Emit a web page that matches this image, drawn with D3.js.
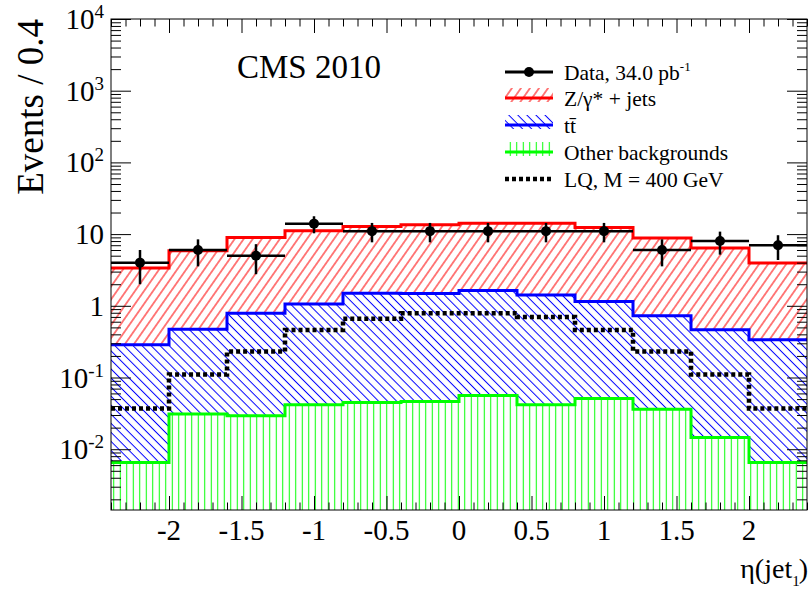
<!DOCTYPE html>
<html>
<head>
<meta charset="utf-8">
<script src="https://cdn.jsdelivr.net/npm/d3@7"></script>
<style>
  body { margin: 0; background: #fff; }
  svg text { font-family: "Liberation Serif", "DejaVu Serif", serif; fill: #000; }
</style>
</head>
<body>
<div id="graph"></div>
<script>
//constantes
const w = 808;
const h = 589;
const padLeft = 111;
const padRight = 807;
const padTop = 19;
const padBottom = 510;
const yMin = 0.00142;
const yMax = 1e4;

// bins en eta
const binLow = [-2.4, -2.0, -1.6, -1.2, -0.8, -0.4, 0.0, 0.4, 0.8, 1.2, 1.6, 2.0];
const binWidth = 0.4;

// empilement : haut du Z/gamma*+jets (total), haut du ttbar, autres
const totalBkg = [3.36, 5.85, 8.97, 11.1, 12.8, 13.5, 14.2, 14.2, 12.4, 8.8, 6.4, 3.94];
const ttbarTop = [0.286, 0.473, 0.79, 1.06, 1.50, 1.48, 1.63, 1.42, 1.15, 0.726, 0.463, 0.336];
const otherBkg = [0.00653, 0.0309, 0.0292, 0.0416, 0.0449, 0.0463, 0.0561, 0.0416, 0.051, 0.0362, 0.0146, 0.00653];
const lqSignal = [0.037, 0.11, 0.23, 0.46, 0.66, 0.79, 0.79, 0.70, 0.46, 0.23, 0.11, 0.037];

// données
const dataCounts = [4, 6, 5, 14, 11, 11, 11, 11, 11, 6, 8, 7];
const dataErr = [2.0, 2.45, 2.24, 3.74, 3.32, 3.32, 3.32, 3.32, 3.32, 2.45, 2.83, 2.65];

// étiquettes des axes
const xTickValues = [-2, -1.5, -1, -0.5, 0, 0.5, 1, 1.5, 2];
const xTickLabels = ["-2", "-1.5", "-1", "-0.5", "0", "0.5", "1", "1.5", "2"];
const yTickValues = [1e-2, 1e-1, 1, 10, 1e2, 1e3, 1e4];
const yTickBase = ["10", "10", "1", "10", "10", "10", "10"];
const yTickExp = ["-2", "-1", "", "", "2", "3", "4"];

// légende
const legendLabels = ["Data, 34.0 pb", "Z/\u03b3* + jets", "t", "Other backgrounds", "LQ, M = 400 GeV"];

//création du svg
const svg = d3.select("#graph")
    .append("svg")
    .attr("width", w)
    .attr("height", h);

//scalling
let xScale = d3.scaleLinear().domain([-2.4, 2.4]).range([padLeft, padRight]);
let yScale = d3.scaleLog().domain([yMin, yMax]).range([padBottom, padTop]);

// motifs hachurés
const defs = svg.append("defs");
function hatch(id, color, angle, gap) {
    let p = defs.append("pattern")
        .attr("id", id)
        .attr("patternUnits", "userSpaceOnUse")
        .attr("width", gap)
        .attr("height", 20)
        .attr("patternTransform", "rotate(" + angle + ")");
    p.append("line")
        .attr("x1", gap / 2).attr("x2", gap / 2)
        .attr("y1", -1).attr("y2", 21)
        .attr("stroke", color)
        .attr("stroke-width", 1);
}
hatch("hRed", "#ff0000", 35, 7.4);
hatch("hBlue", "#0000ff", -45, 6.4);
hatch("hGreen", "#00ff00", 0, 6.5);

// points d'un histogramme en escalier
function steps(values) {
    let pts = [];
    values.forEach(function(v, i) {
        pts.push([binLow[i], v]);
        pts.push([binLow[i] + binWidth, v]);
    });
    return pts;
}

let line = d3.line()
    .x(d => xScale(d[0]))
    .y(d => yScale(d[1]));

function band(lower, upper) {
    let lo = steps(lower);
    let up = steps(upper);
    return d3.area()
        .x(d => xScale(d[0]))
        .y0((d, i) => yScale(lo[i][1]))
        .y1(d => yScale(d[1]))(up);
}

const plot = svg.append("g");

// remplissages
plot.append("path")
    .attr("d", band(ttbarTop, totalBkg))
    .attr("fill", "url(#hRed)");
plot.append("path")
    .attr("d", band(otherBkg, ttbarTop))
    .attr("fill", "url(#hBlue)");
plot.append("path")
    .attr("d", band(otherBkg.map(() => yMin), otherBkg))
    .attr("fill", "url(#hGreen)");

// contours
plot.append("path").attr("d", line(steps(totalBkg)))
    .attr("fill", "none").attr("stroke", "#ff0000").attr("stroke-width", 3);
plot.append("path").attr("d", line(steps(ttbarTop)))
    .attr("fill", "none").attr("stroke", "#0000ff").attr("stroke-width", 3);
plot.append("path").attr("d", line(steps(otherBkg)))
    .attr("fill", "none").attr("stroke", "#00ff00").attr("stroke-width", 3);

// signal LQ
plot.append("path").attr("d", line(steps(lqSignal)))
    .attr("fill", "none").attr("stroke", "#000").attr("stroke-width", 4.5)
    .attr("stroke-dasharray", "4,3");

// données
let pts = plot.selectAll(".pt").data(dataCounts).enter().append("g").attr("class", "pt");
pts.append("line")
    .attr("x1", (d, i) => xScale(binLow[i]))
    .attr("x2", (d, i) => xScale(binLow[i] + binWidth))
    .attr("y1", d => yScale(d))
    .attr("y2", d => yScale(d))
    .attr("stroke", "#000").attr("stroke-width", 2.5);
pts.append("line")
    .attr("x1", (d, i) => xScale(binLow[i] + binWidth / 2))
    .attr("x2", (d, i) => xScale(binLow[i] + binWidth / 2))
    .attr("y1", (d, i) => yScale(d - dataErr[i]))
    .attr("y2", (d, i) => yScale(d + dataErr[i]))
    .attr("stroke", "#000").attr("stroke-width", 2.5);
pts.append("circle")
    .attr("cx", (d, i) => xScale(binLow[i] + binWidth / 2))
    .attr("cy", d => yScale(d))
    .attr("r", 5)
    .attr("fill", "#000");

// axes
let yTicks = yScale.ticks().filter(v => v >= yMin && v <= yMax);
let isMajorY = v => Math.abs(Math.log10(v) - Math.round(Math.log10(v))) < 1e-6;
let xTicks = xScale.ticks(50);
let isMajorX = v => Math.abs(v * 2 - Math.round(v * 2)) < 1e-6;

let axeLeft = d3.axisRight(yScale).tickValues(yTicks).tickFormat("").tickSizeOuter(0);
let axeRight = d3.axisLeft(yScale).tickValues(yTicks).tickFormat("").tickSizeOuter(0);
let axeBottom = d3.axisTop(xScale).tickValues(xTicks).tickFormat("").tickSizeOuter(0);
let axeTop = d3.axisBottom(xScale).tickValues(xTicks).tickFormat("").tickSizeOuter(0);

function drawAxis(axis, tr, vertical, isMajor, lenMaj, lenMin) {
    let g = svg.append("g").attr("transform", tr).call(axis);
    g.select(".domain").remove();
    g.selectAll(".tick line")
        .attr("stroke", "#000")
        .attr("stroke-width", 1)
        .each(function(d) {
            let len = isMajor(d) ? lenMaj : lenMin;
            let el = d3.select(this);
            let k = vertical ? "x2" : "y2";
            el.attr(k, Math.sign(+el.attr(k)) * len);
        });
}
drawAxis(axeLeft, "translate(" + padLeft + ",0)", true, isMajorY, 20, 10);
drawAxis(axeRight, "translate(" + padRight + ",0)", true, isMajorY, 20, 10);
drawAxis(axeBottom, "translate(0," + padBottom + ")", false, isMajorX, 14, 7.5);
drawAxis(axeTop, "translate(0," + padTop + ")", false, isMajorX, 14, 7.5);

// cadre
svg.append("rect")
    .attr("x", padLeft).attr("y", padTop)
    .attr("width", padRight - padLeft).attr("height", padBottom - padTop)
    .attr("fill", "none").attr("stroke", "#000").attr("stroke-width", 1);

// étiquettes y
let yLab = svg.selectAll(".ylab").data(yTickValues).enter().append("text")
    .attr("class", "ylab")
    .attr("x", 104)
    .attr("y", d => yScale(d) + 10)
    .attr("text-anchor", "end")
    .attr("font-size", "29px");
yLab.append("tspan").text((d, i) => yTickBase[i]);
yLab.append("tspan")
    .attr("font-size", "19px")
    .attr("dy", -11)
    .text((d, i) => yTickExp[i]);

// étiquettes x
svg.selectAll(".xlab").data(xTickValues).enter().append("text")
    .attr("class", "xlab")
    .attr("x", d => xScale(d))
    .attr("y", 540)
    .attr("text-anchor", "middle")
    .attr("font-size", "29px")
    .text((d, i) => xTickLabels[i]);

// titres
svg.append("text")
    .attr("transform", "translate(43," + padTop + ") rotate(-90)")
    .attr("text-anchor", "end")
    .attr("font-size", "37px")
    .text("Events / 0.4");

let xt = svg.append("text")
    .attr("x", 808)
    .attr("y", 578)
    .attr("text-anchor", "end")
    .attr("font-size", "28px");
xt.append("tspan").text("\u03b7(jet");
xt.append("tspan").attr("font-size", "15px").attr("dy", 8).text("1");
xt.append("tspan").attr("dy", -8).attr("dx", -1).text(")");

svg.append("text")
    .attr("x", 237)
    .attr("y", 78)
    .attr("font-size", "33px")
    .text("CMS 2010");

// légende
const lx0 = 505, lx1 = 553, ltx = 564;
const legBase = [80, 106, 133, 160, 187];
let leg = svg.append("g");

// Data
leg.append("line").attr("x1", lx0).attr("x2", lx1)
    .attr("y1", legBase[0] - 8).attr("y2", legBase[0] - 8)
    .attr("stroke", "#000").attr("stroke-width", 3);
leg.append("circle").attr("cx", (lx0 + lx1) / 2).attr("cy", legBase[0] - 8).attr("r", 5);

// remplissages de la légende
[["hRed", "#ff0000"], ["hBlue", "#0000ff"], ["hGreen", "#00ff00"]].forEach(function(s, k) {
    let b = legBase[k + 1];
    leg.append("rect").attr("x", lx0).attr("y", b - 18)
        .attr("width", lx1 - lx0).attr("height", 14)
        .attr("fill", "url(#" + s[0] + ")");
    leg.append("line").attr("x1", lx0).attr("x2", lx1)
        .attr("y1", b - 8).attr("y2", b - 8)
        .attr("stroke", s[1]).attr("stroke-width", 3);
});

// LQ
leg.append("line").attr("x1", lx0).attr("x2", lx1)
    .attr("y1", legBase[4] - 8).attr("y2", legBase[4] - 8)
    .attr("stroke", "#000").attr("stroke-width", 4.5)
    .attr("stroke-dasharray", "4,3");

let lt = leg.selectAll(".lt").data(legendLabels).enter().append("text")
    .attr("class", "lt")
    .attr("x", ltx)
    .attr("y", (d, i) => legBase[i])
    .attr("font-size", "21.5px")
    .text(d => d);

// exposant pb^-1 et t barre
d3.select(lt.nodes()[0]).append("tspan").attr("font-size", "13px").attr("dy", -9).text("-1");
d3.select(lt.nodes()[2]).append("tspan").text("t\u0304");
</script>
</body>
</html>
